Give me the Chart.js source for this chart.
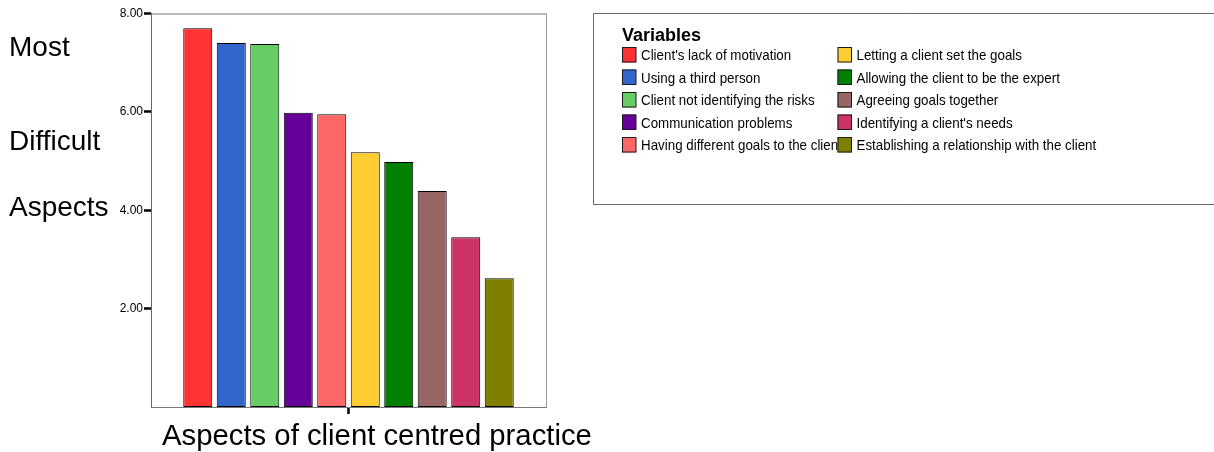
<!DOCTYPE html>
<html>
<head>
<meta charset="utf-8">
<script src="https://cdn.jsdelivr.net/npm/chart.js@4/dist/chart.umd.min.js"></script>
<style>
  html, body { margin: 0; padding: 0; background: #fff; }
  #wrap { width: 1214px; height: 452px; }
</style>
</head>
<body>
<div id="wrap"><canvas id="c" width="1214" height="452"></canvas></div>
<script>
// Mean difficulty rating for each aspect of client centred practice
const categories = [''];
const variableNames = [
  "Client's lack of motivation",
  'Using a third person',
  'Client not identifying the risks',
  'Communication problems',
  'Having different goals to the client',
  'Letting a client set the goals',
  'Allowing the client to be the expert',
  'Agreeing goals together',
  "Identifying a client's needs",
  'Establishing a relationship with the client'
];
const meanScores = [7.70, 7.40, 7.38, 5.98, 5.95, 5.18, 4.98, 4.39, 3.45, 2.62];
const barColors = ['#FF3333', '#3366CC', '#66CC66', '#660099', '#FF6666',
                   '#FFCC33', '#008000', '#996666', '#CC3366', '#808000'];
const yTickValues = [2, 4, 6, 8];
const sideLabel = ['Most', 'Difficult', 'Aspects'];
const xTitle = 'Aspects of client centred practice';
const legendTitle = 'Variables';

const FONT = '"Liberation Sans", Arial, Helvetica, sans-serif';

const datasets = variableNames.map((name, i) => ({
  label: name,
  data: [meanScores[i]],
  backgroundColor: barColors[i],
  borderColor: '#000',
  borderWidth: 1,
  borderSkipped: false,
  categoryPercentage: 0.848,
  barPercentage: 0.866
}));

// Frame, side labels, axis title and the two-column legend box
const decorations = {
  id: 'decorations',
  afterDraw(chart) {
    const ctx = chart.ctx;
    const a = chart.chartArea;
    ctx.save();

    // top and right edges of the plot frame
    ctx.lineWidth = 1;
    ctx.strokeStyle = '#777';
    ctx.beginPath();
    ctx.moveTo(a.left, a.top + 0.5);
    ctx.lineTo(a.right + 0.5, a.top + 0.5);
    ctx.stroke();
    ctx.strokeStyle = '#9a9a9a';
    ctx.beginPath();
    ctx.moveTo(a.right + 0.5, a.top);
    ctx.lineTo(a.right + 0.5, a.bottom);
    ctx.stroke();

    // left side label
    ctx.fillStyle = '#000';
    ctx.textBaseline = 'alphabetic';
    ctx.textAlign = 'left';
    ctx.font = '28px ' + FONT;
    const sideBaselines = [56, 150, 216];
    sideLabel.forEach((t, i) => ctx.fillText(t, 9, sideBaselines[i]));

    // x axis title
    ctx.font = '29.3px ' + FONT;
    ctx.fillText(xTitle, 162, 445);

    // legend box
    ctx.strokeStyle = '#666';
    ctx.lineWidth = 1;
    ctx.beginPath();
    ctx.moveTo(1220, 13.5);
    ctx.lineTo(593.5, 13.5);
    ctx.lineTo(593.5, 204.5);
    ctx.lineTo(1220, 204.5);
    ctx.stroke();

    ctx.font = 'bold 18px ' + FONT;
    ctx.fillText(legendTitle, 622, 41);

    const colX = [622, 837.5];
    const sets = chart.data.datasets;
    sets.forEach((ds, i) => {
      const col = Math.floor(i / 5);
      const row = i % 5;
      const sx = colX[col];
      const sy = 47 + row * 22.5;
      ctx.fillStyle = ds.backgroundColor;
      ctx.fillRect(sx, sy, 14, 15.5);
      ctx.strokeStyle = '#1a1a1a';
      ctx.strokeRect(sx + 0.5, sy + 0.5, 13.5, 14.5);

      ctx.save();
      if (col === 0) {
        ctx.beginPath();
        ctx.rect(sx, 0, colX[1] - sx, 452);
        ctx.clip();
      }
      ctx.fillStyle = '#000';
      ctx.font = '15px ' + FONT;
      ctx.translate(sx + 19, sy + 13.3);
      ctx.scale(0.89, 1);
      ctx.fillText(ds.label, 0, 0);
      ctx.restore();
    });

    ctx.restore();
  }
};

new Chart(document.getElementById('c'), {
  type: 'bar',
  data: { labels: categories, datasets },
  options: {
    responsive: false,
    animation: false,
    devicePixelRatio: 1,
    layout: { padding: { left: 0, right: 668, top: 13.5, bottom: 0 } },
    plugins: { legend: { display: false }, tooltip: { enabled: false } },
    scales: {
      x: {
        type: 'category',
        offset: true,
        grid: {
          offset: false,
          drawOnChartArea: false,
          drawTicks: true,
          tickLength: 7,
          tickColor: '#000',
          tickWidth: 2.5
        },
        border: { color: '#777', width: 1 },
        ticks: { display: false },
        afterFit(scale) { scale.height = 45; }
      },
      y: {
        min: 0,
        max: 8,
        afterBuildTicks(scale) {
          scale.ticks = yTickValues.map(v => ({ value: v }));
        },
        ticks: {
          color: '#000',
          padding: 1,
          font: { family: FONT, size: 12 },
          callback: v => Number(v).toFixed(2)
        },
        grid: {
          drawOnChartArea: false,
          drawTicks: true,
          tickLength: 7,
          tickColor: '#000',
          tickWidth: 2.5
        },
        border: { color: '#666', width: 1 },
        afterFit(scale) { scale.width = 151; }
      }
    }
  },
  plugins: [decorations]
});
</script>
</body>
</html>
